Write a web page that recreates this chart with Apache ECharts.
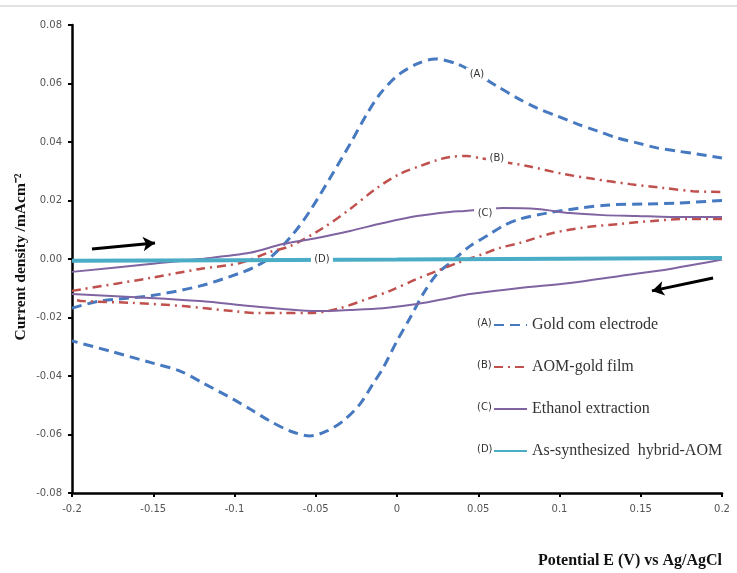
<!DOCTYPE html>
<html>
<head>
<meta charset="utf-8">
<script src="https://cdn.jsdelivr.net/npm/echarts@6/dist/echarts.min.js"></script>
<style>
  html, body { margin: 0; padding: 0; background: #fff; }
  #main { width: 737px; height: 573px; }
</style>
</head>
<body>
<div id="main"></div>
<script>
// potential (V) vs current density
var aFwd = [[-0.2, -0.0168], [-0.183, -0.0144], [-0.152, -0.0126], [-0.121, -0.0092], [-0.0966, -0.0048],
    [-0.0886, -0.0030], [-0.078, 0.0005], [-0.064, 0.0085], [-0.0535, 0.0165], [-0.0412, 0.0277],
    [-0.0289, 0.0393], [-0.0185, 0.0496], [-0.0105, 0.0564], [0, 0.0626], [0.0123, 0.0667],
    [0.0234, 0.0684], [0.037, 0.0667], [0.0492, 0.0632], [0.0615, 0.0591], [0.0738, 0.0551],
    [0.0862, 0.0516], [0.0985, 0.0489], [0.1108, 0.0462], [0.1231, 0.0438], [0.1354, 0.0414],
    [0.1477, 0.0397], [0.16, 0.038], [0.1723, 0.0369], [0.1846, 0.0359], [0.2, 0.0345]];
var aRev = [[0.2, 0.0200], [0.1723, 0.0191], [0.1538, 0.0188], [0.1311, 0.0185], [0.1126, 0.0174],
    [0.0923, 0.0157], [0.0757, 0.0137], [0.0652, 0.0113], [0.0572, 0.0085], [0.0449, 0.0044],
    [0.0326, -0.0014], [0.0246, -0.0051], [0.016, -0.012], [0.008, -0.0202], [0, -0.028],
    [-0.0086, -0.0373], [-0.0148, -0.0427], [-0.0228, -0.0496], [-0.0332, -0.0554], [-0.0431, -0.0588],
    [-0.0535, -0.0605], [-0.0658, -0.0588], [-0.0782, -0.0554], [-0.0905, -0.0513], [-0.1009, -0.0479],
    [-0.1194, -0.0424], [-0.1335, -0.0383], [-0.1502, -0.0356], [-0.1766, -0.0315], [-0.2, -0.028]];
var bFwd = [[-0.2, -0.0109], [-0.152, -0.0065], [-0.1212, -0.0034], [-0.0966, -0.0014], [-0.0782, 0.0024],
    [-0.0658, 0.0044], [-0.0455, 0.0106], [-0.0289, 0.0171], [-0.0123, 0.0243], [0.0018, 0.0291],
    [0.0142, 0.0318], [0.0246, 0.0338], [0.0326, 0.0349], [0.0431, 0.0352], [0.0511, 0.0345],
    [0.08, 0.0318], [0.1022, 0.0291], [0.1206, 0.0274], [0.1434, 0.0256], [0.1637, 0.0243],
    [0.1822, 0.0232], [0.2, 0.0229]];
var bRev = [[0.2, 0.0137], [0.1785, 0.0137], [0.1575, 0.013], [0.1372, 0.012], [0.1169, 0.0109],
    [0.096, 0.0089], [0.0757, 0.0055], [0.0634, 0.0038], [0.0529, 0.0017], [0.0369, -0.0014],
    [0.0246, -0.0041], [0.0123, -0.0068], [-0.0043, -0.0109], [-0.0185, -0.0137], [-0.0369, -0.0171],
    [-0.0535, -0.0185], [-0.0702, -0.0185], [-0.0843, -0.0185], [-0.1009, -0.0178], [-0.1317, -0.0161],
    [-0.1625, -0.015], [-0.1932, -0.0144], [-0.2, -0.0137]];
var cFwd = [[-0.2, -0.0044], [-0.152, -0.0017], [-0.1212, 0.0], [-0.0905, 0.0021], [-0.0702, 0.0051],
    [-0.0492, 0.0072], [-0.0289, 0.0096], [-0.0086, 0.0123], [0.0123, 0.0147], [0.0326, 0.0161],
    [0.0418, 0.0164], [0.0652, 0.0174], [0.0862, 0.0171], [0.1065, 0.0157], [0.1268, 0.015],
    [0.1477, 0.0147], [0.168, 0.0144], [0.2, 0.0144]];
var cRev = [[0.2, -0.0002], [0.168, -0.0034], [0.1372, -0.0058], [0.1065, -0.0082], [0.0757, -0.0099],
    [0.0449, -0.012], [0.0326, -0.0133], [0.0123, -0.0154], [-0.0086, -0.0168], [-0.0289, -0.0174],
    [-0.0492, -0.0178], [-0.0702, -0.0171], [-0.0905, -0.0161], [-0.1212, -0.0144], [-0.152, -0.0133],
    [-0.2, -0.012]];
var dLine = [[-0.2, -0.0006], [-0.1, -0.0004], [0, -0.0002], [0.1, 0.0001], [0.2, 0.0003]];

var names = ['Gold com electrode', 'AOM-gold film', 'Ethanol extraction', 'As-synthesized  hybrid-AOM'];
var tags = ['(A)', '(B)', '(C)', '(D)'];
var tagPos = [[0.0492, 0.0632], [0.0615, 0.0345], [0.0542, 0.0157], [-0.0462, 0.0]];
var arrowUp = [[-0.1877, 0.0034], [-0.1489, 0.0055]];
var arrowDown = [[0.1945, -0.0065], [0.1569, -0.0109]];

var colors = ['#4679c0', '#c0504d', '#8064a2', '#4bacc6'];
var styles = [
    { width: 3, type: [10, 6] },
    { width: 2.5, type: [9, 5, 2, 5] },
    { width: 2, type: 'solid' },
    { width: 4, type: 'solid' }
];

function tagMark(i) {
    return {
        symbol: 'rect',
        symbolSize: [22, 13],
        itemStyle: { color: '#fff' },
        label: {
            show: true, position: 'inside', formatter: tags[i],
            color: '#333', fontFamily: 'DejaVu Sans', fontSize: 10
        },
        data: [{ coord: tagPos[i] }]
    };
}

function mkSeries(i, data, withTag) {
    var s = {
        name: names[i],
        type: 'line',
        data: data,
        showSymbol: false,
        symbol: 'none',
        smooth: 0.3,
        color: colors[i],
        lineStyle: { color: colors[i], width: styles[i].width, type: styles[i].type }
    };
    if (withTag) s.markPoint = tagMark(i);
    return s;
}

var series = [
    mkSeries(0, aFwd, true), mkSeries(0, aRev, false),
    mkSeries(1, bFwd, true), mkSeries(1, bRev, false),
    mkSeries(2, cFwd, true), mkSeries(2, cRev, false),
    mkSeries(3, dLine, true)
];
series[6].smooth = false;
series[6].markLine = {
    silent: true,
    symbol: ['none', 'arrow'],
    symbolSize: [11, 12],
    label: { show: false },
    lineStyle: { color: '#000', width: 3, type: 'solid' },
    data: [
        [{ coord: arrowUp[0] }, { coord: arrowUp[1] }],
        [{ coord: arrowDown[0] }, { coord: arrowDown[1] }]
    ]
};

var myChart = echarts.init(document.getElementById('main'));

myChart.setOption({
    animation: false,
    grid: { left: 72, right: 15, top: 25, bottom: 80 },
    xAxis: {
        type: 'value',
        min: -0.2, max: 0.2, interval: 0.05,
        axisLine: { onZero: false, lineStyle: { color: '#000', width: 2.5 } },
        axisTick: { show: true, length: 4, lineStyle: { color: '#000', width: 2 } },
        axisLabel: { color: '#555', fontFamily: 'DejaVu Sans', fontSize: 10, margin: 11 },
        splitLine: { show: false }
    },
    yAxis: {
        type: 'value',
        min: -0.08, max: 0.08, interval: 0.02,
        axisLine: { onZero: false, lineStyle: { color: '#000', width: 2.5 } },
        axisTick: { show: true, length: 4, lineStyle: { color: '#000', width: 2 } },
        axisLabel: {
            color: '#555', fontFamily: 'DejaVu Sans', fontSize: 10, margin: 10,
            formatter: function (v) { return v.toFixed(2); }
        },
        splitLine: { show: false }
    },
    legend: {
        data: names,
        orient: 'vertical',
        left: 493,
        top: 317,
        padding: 0,
        itemWidth: 33,
        itemHeight: 14,
        itemGap: 26,
        selectedMode: false,
        itemStyle: { opacity: 0 },
        textStyle: { fontFamily: 'Liberation Serif', fontSize: 16, color: '#333' }
    },
    graphic: [
        { type: 'line', shape: { x1: 0, y1: 6, x2: 737, y2: 6 }, style: { stroke: '#c4c4c4', lineWidth: 1 } },
        {
            type: 'text', x: 21, y: 257, rotation: Math.PI / 2,
            style: {
                text: 'Current density /mAcm\u207B\u00B2', align: 'center', verticalAlign: 'middle',
                fontFamily: 'Liberation Serif', fontWeight: 'bold', fontSize: 15.5, fill: '#111'
            }
        },
        { type: 'text', left: 477, top: 318, style: { text: '(A)', fontFamily: 'DejaVu Sans', fontSize: 10, fill: '#333' } },
        { type: 'text', left: 477, top: 360, style: { text: '(B)', fontFamily: 'DejaVu Sans', fontSize: 10, fill: '#333' } },
        { type: 'text', left: 477, top: 402, style: { text: '(C)', fontFamily: 'DejaVu Sans', fontSize: 10, fill: '#333' } },
        { type: 'text', left: 477, top: 444, style: { text: '(D)', fontFamily: 'DejaVu Sans', fontSize: 10, fill: '#333' } },
        {
            type: 'text', right: 15, top: 553,
            style: { text: 'Potential E (V) vs Ag/AgCl', fontFamily: 'Liberation Serif', fontWeight: 'bold', fontSize: 16, fill: '#111' }
        }
    ],
    series: series
});
</script>
</body>
</html>
